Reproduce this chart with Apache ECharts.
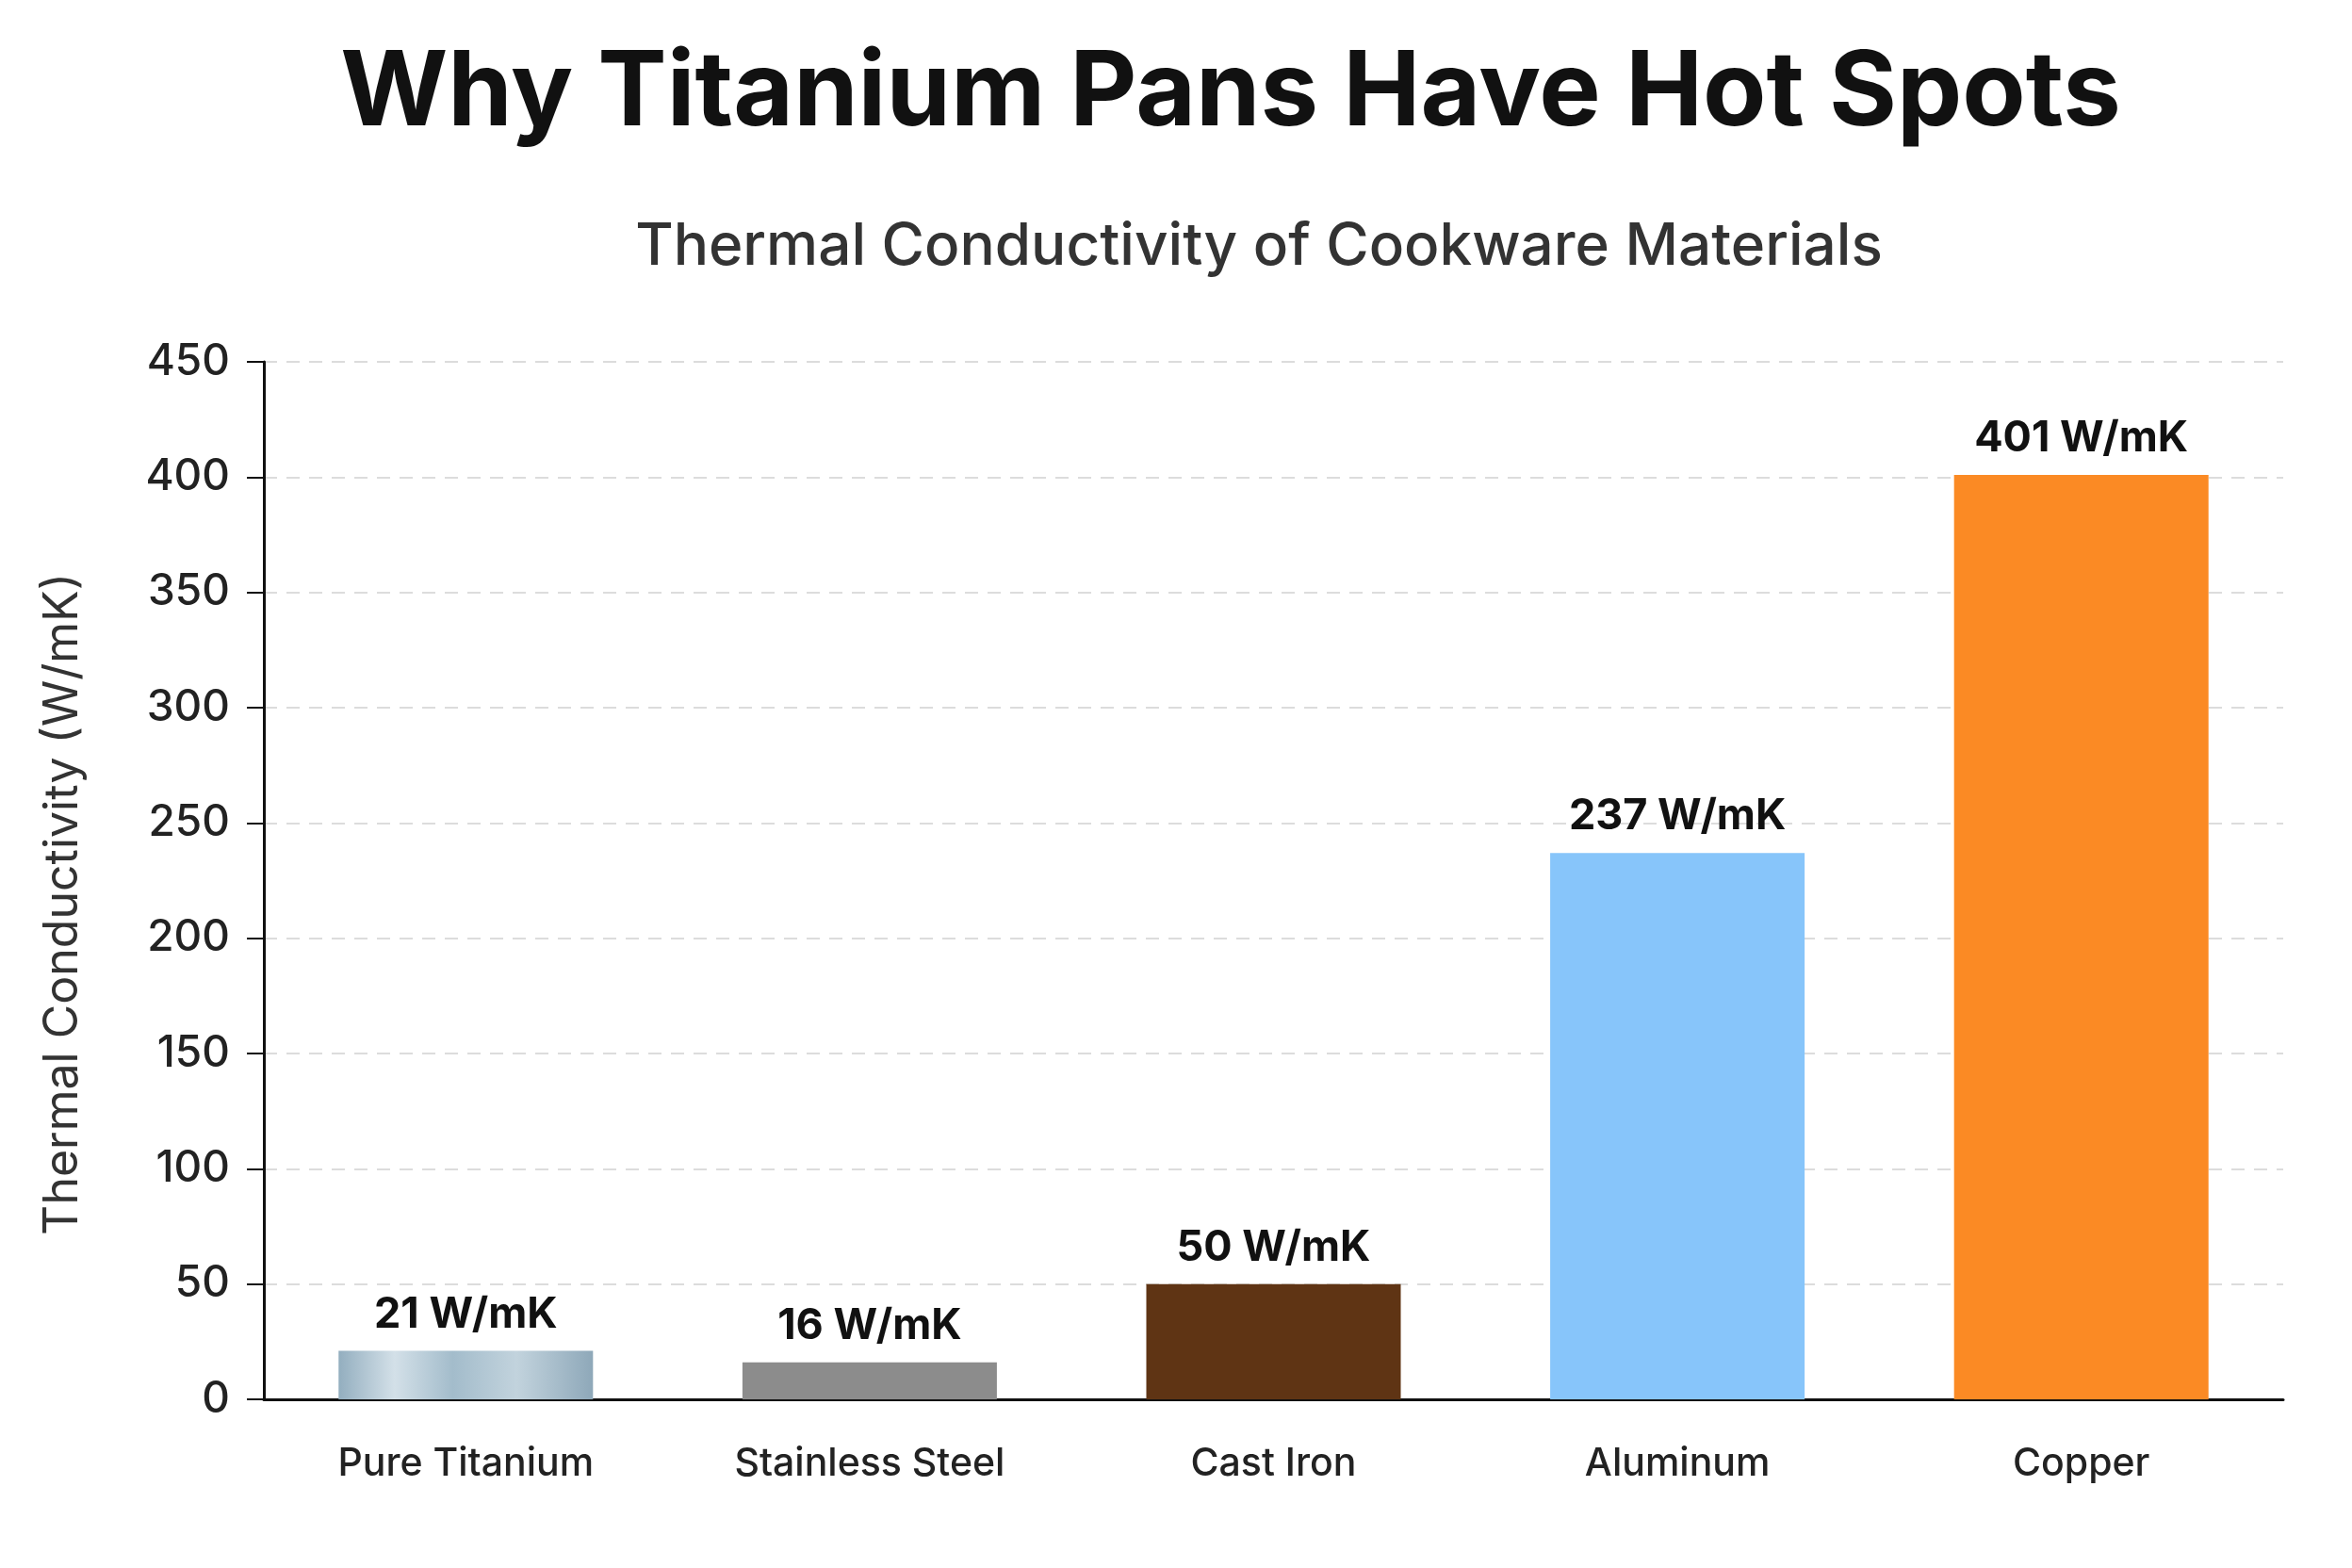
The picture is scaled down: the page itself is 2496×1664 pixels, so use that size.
<!DOCTYPE html>
<html>
<head>
<meta charset="utf-8">
<title>Why Titanium Pans Have Hot Spots</title>
<script src="https://cdn.jsdelivr.net/npm/echarts@6/dist/echarts.min.js"></script>
<style>
  html, body { margin: 0; padding: 0; background: #fff; }
  #chart { width: 2496px; height: 1664px; }
</style>
</head>
<body>
<div id="chart"></div>
<script>
var materials = ['Pure Titanium', 'Stainless Steel', 'Cast Iron', 'Aluminum', 'Copper'];
var conductivity = [21, 16, 50, 237, 401];
var yTicks = [0, 50, 100, 150, 200, 250, 300, 350, 400, 450];

// bar fills, same order as materials
var titaniumFill = new echarts.graphic.LinearGradient(0, 0, 1, 0, [
    {offset: 0, color: '#93aebf'},
    {offset: 0.22, color: '#d3e0e8'},
    {offset: 0.45, color: '#a3bccb'},
    {offset: 0.7, color: '#c2d3dd'},
    {offset: 1, color: '#8ea8b9'}
]);
var barColors = [titaniumFill, '#8c8c8c', '#5f3414', '#87c5fa', '#fb8a24'];

var font = 'Inter, "Noto Sans", sans-serif';
var chart = echarts.init(document.getElementById('chart'));

var option = {
    backgroundColor: '#ffffff',
    title: [{
        text: 'Why Titanium Pans Have Hot Spots',
        left: 1301,
        textAlign: 'center',
        top: 40,
        textStyle: {fontFamily: font, fontSize: 110, fontWeight: 'bold', color: '#111'}
    }, {
        text: 'Thermal Conductivity of Cookware Materials',
        left: 1331,
        textAlign: 'center',
        top: 226,
        textStyle: {fontFamily: font, fontSize: 62, fontWeight: 500, color: '#333'}
    }],
    grid: {
        left: 280,
        right: 73,
        top: 384,
        bottom: 179,
        containLabel: false
    },
    xAxis: {
        type: 'category',
        data: materials,
        axisLine: {lineStyle: {color: '#111', width: 3}},
        axisTick: {show: false},
        axisLabel: {
            margin: 48,
            fontFamily: font,
            fontSize: 41,
            fontWeight: 500,
            color: '#222'
        }
    },
    yAxis: {
        type: 'value',
        min: yTicks[0],
        max: yTicks[yTicks.length - 1],
        interval: 50,
        name: 'Thermal Conductivity (W/mK)',
        nameLocation: 'middle',
        nameGap: 188,
        nameTextStyle: {fontFamily: font, fontSize: 50, color: '#333', padding: [0, 50, 0, 0]},
        axisLine: {show: true, lineStyle: {color: '#111', width: 3}},
        axisTick: {show: true, length: 18, lineStyle: {color: '#111', width: 2}},
        axisLabel: {
            margin: 36,
            fontFamily: font,
            fontSize: 46,
            fontWeight: 500,
            color: '#222'
        },
        splitLine: {lineStyle: {color: '#dcdcdc', type: [14, 10], width: 2}}
    },
    series: [{
        type: 'bar',
        barWidth: '63%',
        data: conductivity.map(function (v, i) {
            return {value: v, itemStyle: {color: barColors[i]}};
        }),
        label: {
            show: true,
            position: 'top',
            distance: 16,
            formatter: '{c} W/mK',
            fontFamily: font,
            fontSize: 45,
            fontWeight: 'bold',
            color: '#111'
        }
    }]
};

chart.setOption(option);
</script>
</body>
</html>
